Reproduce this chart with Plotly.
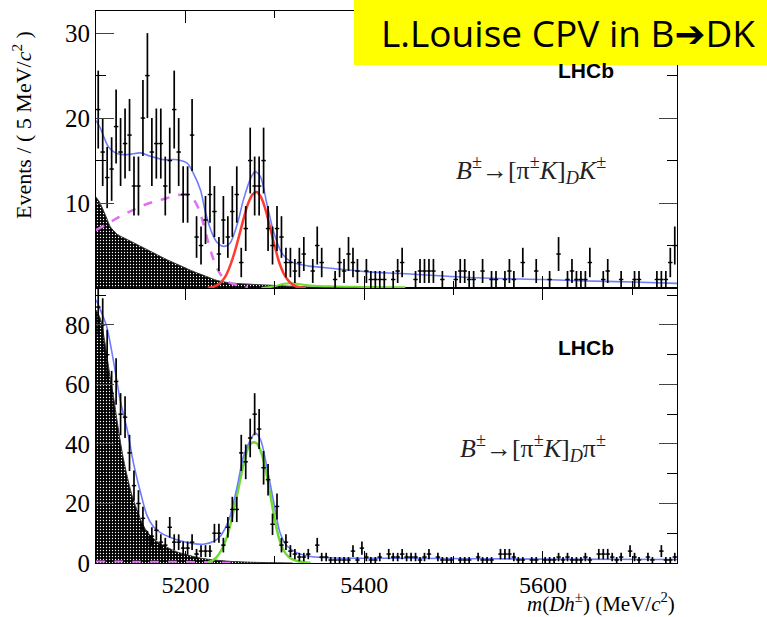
import numpy as np
import plotly.graph_objects as go

# ---------------- data ----------------
bin_centers = list(5102.5 + 5 * np.arange(130))

top_counts = [21,16,13,14,19,16,17,18,12,12,
              20,25,16,17,17,12,15,21,16,11,
              11,18,6,5,8,11,9,4,8,6,
              9,11,3,7,15,12,12,15,7,5,
              7,6,3,3,2,3,4,0,2,5,
              3,0,0,1,3,2,4,3,2,0,
              2,1,1,1,1,0,1,2,3,0,
              0,1,2,2,2,2,0,1,0,0,
              1,2,2,1,1,0,2,0,1,1,
              0,1,2,1,0,3,0,0,2,0,
              0,1,0,4,0,1,2,1,1,1,
              3,0,0,1,2,0,0,1,0,0,
              1,1,0,0,0,1,1,1,3,5]

bot_counts = [86,80,70,57,61,50,49,37,26,20,
              15,8,9,11,7,6,12,7,7,5,
              5,7,3,4,4,4,10,10,6,12,
              18,18,37,34,42,50,45,32,28,13,
              19,6,7,4,3,2,2,3,0,6,
              2,2,1,1,1,1,1,4,1,5,
              2,1,1,2,0,3,2,2,3,2,
              2,2,1,2,3,0,2,1,1,1,
              0,1,1,1,0,2,1,1,1,0,
              3,3,3,2,1,1,0,1,1,0,
              1,1,1,2,1,2,1,1,1,2,
              1,0,3,3,3,2,1,2,0,4,
              2,1,0,2,1,0,4,1,1,2]

# fit curves - top panel
top_total_m = [5100,5104,5108,5114,5122,5135,5150,5161,5176,5191,5202,5209,5217,5222,5230,5236,5243,5250,5258,5265,5273,5278,5284,5291,5299,5308,5318,5337,5366,5404,5442,5526,5600,5638,5700,5750]
top_total_v = [19.7,19.0,18.0,16.6,15.9,15.7,15.9,15.5,15.1,15.1,14.7,13.5,11.5,9.1,6.4,5.3,4.9,5.3,7.5,10.4,12.9,13.7,13.1,10.0,6.5,4.1,3.1,2.6,2.3,1.9,1.7,1.2,1.0,0.86,0.7,0.55]

top_sig_m = [5225,5230,5235,5240,5245,5250,5255,5260,5265,5270,5275,5280,5285,5290,5295,5300,5305,5310,5315,5320,5325,5330,5335]
top_sig_v = [0.02,0.1,0.3,0.7,1.4,2.6,4.2,6.1,8.1,9.9,11.0,11.3,10.6,9.1,7.0,4.9,3.0,1.7,0.9,0.4,0.15,0.05,0.0]

top_green_m = [5285,5290,5300,5310,5320,5330,5340,5360,5380,5400,5420,5446]
top_green_v = [0.0,0.05,0.2,0.5,0.55,0.4,0.3,0.2,0.15,0.12,0.1,0.1]

top_pr_m = [5100,5110,5120,5130,5140,5150,5160,5170,5180,5190,5200,5205,5210,5215,5220,5225,5230,5235,5240,5245,5250,5260,5270]
top_pr_v = [6.8,7.4,8.0,8.6,9.1,9.6,10.0,10.3,10.6,10.9,11.0,10.8,10.3,9.3,7.6,5.6,3.8,2.4,1.5,0.9,0.6,0.3,0.1]

top_bkg_m = [5100,5104,5108,5112,5116,5124,5135,5150,5165,5180,5195,5210,5225,5235,5250,5272,5300,5330,5360,5380]
top_bkg_v = [10.7,10.1,9.2,8.2,7.2,6.3,5.7,4.9,4.1,3.3,2.6,1.9,1.3,0.9,0.6,0.45,0.3,0.15,0.05,0.0]

# fit curves - bottom panel
bot_total_m = [5100,5105,5112,5120,5127,5135,5142,5150,5157,5164,5172,5182,5195,5209,5220,5232,5239,5245,5250,5258,5265,5273,5278,5284,5291,5299,5306,5314,5325,5340,5366,5450,5600,5750]
bot_total_v = [88.4,85,79.4,67.1,54.8,44.7,33.5,23.5,16.0,12.3,10.2,8.7,7.4,6.5,6.3,7.3,9.0,12,15.7,25.8,35.8,41.5,43.7,41.5,32.5,20.2,10.1,5.6,3.4,2.2,1.7,1.6,1.3,1.2]

bot_sig_m = [5225,5230,5235,5240,5245,5250,5255,5260,5265,5270,5275,5280,5285,5290,5295,5300,5305,5310,5315,5320,5325,5330,5335,5340]
bot_sig_v = [0.2,0.8,2.0,4.2,7.5,12.5,19,26,33,38.5,40.5,40.2,37,31,23,14.5,8,4.2,2.2,1.2,0.7,0.4,0.2,0.1]

bot_bkg_m = [5100,5105,5110,5115,5120,5125,5130,5135,5140,5145,5150,5155,5160,5170,5180,5190,5200,5210,5220,5230,5240,5250,5260,5280,5300,5320]
bot_bkg_v = [85,82,74,64,55,45,36,29,23,18.5,14.5,11.5,9.5,6.8,5.2,3.8,2.9,2.1,1.5,1.1,0.8,0.55,0.4,0.2,0.1,0.0]

bot_pr_m = [5100,5150,5200,5240,5260]
bot_pr_v = [0.5,0.45,0.4,0.2,0.0]

top_ticks = [0, 10, 20, 30]
top_ticklabels = ['', '10', '20', '30']

# ---------------- figure ----------------
W, H = 767, 617
L, R, T, B = 96, 90, 11, 54
PH = H - T - B
split = (563 - 288) / PH

fig = go.Figure()

BLUE = '#6e7cff'
RED = '#ff3b30'
GREEN = '#6ddc2e'
MAG = '#e070f0'

def bkg_trace(m, v, xa, ya):
    return go.Scatter(x=m, y=v, mode='lines', xaxis=xa, yaxis=ya,
                      line=dict(color='#333333', width=1, shape='spline', smoothing=0.6),
                      fill='tozeroy', fillcolor='black',
                      fillpattern=dict(shape='.', fgcolor='white', bgcolor='black',
                                       size=3, solidity=0.15, fillmode='replace'),
                      hoverinfo='skip', showlegend=False)

def curve(m, v, color, width, xa, ya, dash='solid'):
    return go.Scatter(x=m, y=v, mode='lines', xaxis=xa, yaxis=ya,
                      line=dict(color=color, width=width, dash=dash, shape='spline', smoothing=0.8),
                      hoverinfo='skip', showlegend=False)

def points(counts, xa, ya):
    xs = [c for c, n in zip(bin_centers, counts) if n > 0]
    ys = [n for n in counts if n > 0]
    es = [float(np.sqrt(n)) for n in ys]
    return go.Scatter(x=xs, y=ys, mode='markers', xaxis=xa, yaxis=ya,
                      marker=dict(size=2, color='black'),
                      error_x=dict(type='constant', value=2.5, width=0, thickness=1.4, color='black'),
                      error_y=dict(type='data', array=es, width=0, thickness=1.7, color='black'),
                      hoverinfo='skip', showlegend=False)

# top panel (x2, y2)
fig.add_trace(bkg_trace(top_bkg_m, top_bkg_v, 'x2', 'y2'))
fig.add_trace(curve(top_pr_m, top_pr_v, MAG, 2.5, 'x2', 'y2', dash='dash'))
fig.add_trace(curve(top_green_m, top_green_v, GREEN, 2, 'x2', 'y2'))
fig.add_trace(curve(top_sig_m, top_sig_v, RED, 2.5, 'x2', 'y2'))
fig.add_trace(curve(top_total_m, top_total_v, BLUE, 1.6, 'x2', 'y2'))
fig.add_trace(points(top_counts, 'x2', 'y2'))

# bottom panel (x, y)
fig.add_trace(bkg_trace(bot_bkg_m, bot_bkg_v, 'x', 'y'))
fig.add_trace(curve(bot_pr_m, bot_pr_v, MAG, 2, 'x', 'y', dash='dash'))
fig.add_trace(curve(bot_sig_m, bot_sig_v, GREEN, 2.5, 'x', 'y'))
fig.add_trace(curve(bot_total_m, bot_total_v, BLUE, 1.6, 'x', 'y'))
fig.add_trace(points(bot_counts, 'x', 'y'))

serif = 'Liberation Serif, Times New Roman, serif'
tickfont = dict(family=serif, size=25, color='black')

xcommon = dict(range=[5100, 5750], showline=True, linecolor='black', linewidth=1,
               mirror='allticks', ticks='inside', ticklen=12, tickcolor='black',
               dtick=200, tick0=5200, showgrid=False, zeroline=False,
               minor=dict(dtick=100, ticklen=7, ticks='inside', tickcolor='black'))

fig.update_layout(
    width=W, height=H,
    margin=dict(l=L, r=R, t=T, b=B),
    paper_bgcolor='white', plot_bgcolor='white',
    xaxis=dict(domain=[0, 1], anchor='y', tickfont=dict(family=serif, size=24, color='black'),
               ticklabelstandoff=0, **xcommon),
    xaxis2=dict(domain=[0, 1], anchor='y2', showticklabels=False, matches='x', **xcommon),
    yaxis=dict(domain=[0, split], range=[0, 92.4], anchor='x', showline=True, linecolor='black',
               mirror='allticks', ticks='inside', ticklen=18, dtick=20, tickfont=tickfont,
               showgrid=False, zeroline=False,
               minor=dict(dtick=10, ticklen=10, ticks='inside', tickcolor='black')),
    yaxis2=dict(domain=[split, 1], range=[0, 32.6], anchor='x2', showline=True, linecolor='black',
                mirror='allticks', ticks='inside', ticklen=18, tickmode='array',
                tickvals=top_ticks, ticktext=top_ticklabels, tickfont=tickfont,
                showgrid=False, zeroline=False,
                minor=dict(dtick=5, tick0=0, ticklen=10, ticks='inside', tickcolor='black')),
)

def px2paper_x(px):
    return (px - L) / (W - L - R)

def px2paper_y(py):
    return (H - B - py) / PH

def A(text, px, py, size, family, color='black', xanchor='center', angle=0):
    return dict(text=text, x=px2paper_x(px), y=px2paper_y(py), xref='paper', yref='paper',
                xanchor=xanchor, yanchor='middle', textangle=angle, showarrow=False,
                font=dict(family=family, size=size, color=color))

sans = 'Liberation Sans, Arial, sans-serif'
ann = [
    A('Events / ( 5 MeV/<i>c</i><sup>2</sup> )', 22, 125, 22, serif, angle=-90),
    A('<i>m</i>(<i>Dh</i><sup>±</sup>) (MeV/<i>c</i><sup>2</sup>)', 677, 602, 21, serif, xanchor='right'),
    A('<i>B</i><sup>±</sup>→[π<sup>±</sup><i>K</i>]<sub><i>D</i></sub><i>K</i><sup>±</sup>', 531, 170, 26, serif, color='#222222'),
    A('<i>B</i><sup>±</sup>→[π<sup>±</sup><i>K</i>]<sub><i>D</i></sub>π<sup>±</sup>', 533, 448, 26, serif, color='#222222'),
    A('<b>LHCb</b>', 586, 70.5, 21, sans),
    A('<b>LHCb</b>', 586, 347.5, 21, sans),
    A('L.Louise CPV in B➔DK', 568, 33, 37, 'Open Sans, Noto Sans, DejaVu Sans, sans-serif'),
]
fig.update_layout(annotations=ann)

fig.add_shape(type='rect', xref='paper', yref='paper',
              x0=px2paper_x(354), x1=px2paper_x(770), y0=px2paper_y(65), y1=px2paper_y(-3),
              fillcolor='#ffff00', line=dict(width=0), layer='above')

fig.write_html('out.html')
